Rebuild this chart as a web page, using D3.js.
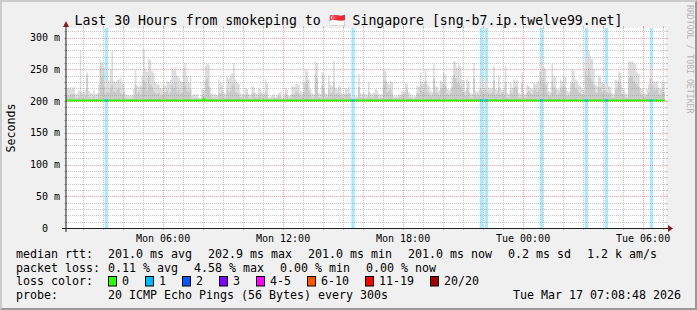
<!DOCTYPE html>
<html>
<head>
<meta charset="utf-8">
<script src="https://cdn.jsdelivr.net/npm/d3@7"></script>
<style>
  body { margin: 0; background: #fff; }
  svg text { font-family: "DejaVu Sans Mono", monospace; }
</style>
</head>
<body>
<script>
'use strict';

// ---- data (5 minute steps from Mon 01:10) ----
const titleText = 'Last 30 Hours from smokeping to \u{1F1F8}\u{1F1EC} Singapore [sng-b7.ip.twelve99.net]';

// highest ping of each step (ms) -> light smoke
const smokeMax = [
  221,220,222,219,222,211,212,216,279,215,214,219,245,216,213,212,217,211,212,226,
  263,260,253,234,234,232,250,279,232,230,233,234,236,229,227,211,210,209,208,210,
  219,250,224,222,225,240,281,250,246,266,264,247,244,229,226,226,221,219,226,224,
  232,230,233,253,250,253,240,237,232,230,253,260,240,229,240,208,211,210,211,205,
  205,219,217,255,259,257,221,212,210,212,209,234,228,226,213,211,238,236,240,244,
  260,234,229,227,213,211,211,221,219,211,209,224,222,213,212,221,219,213,211,234,
  228,205,207,208,211,206,209,213,214,205,207,221,218,208,209,224,222,226,228,225,
  216,214,230,250,247,234,219,213,211,263,260,213,211,245,242,213,211,240,226,224,
  263,221,219,224,222,213,211,221,219,222,213,205,205,208,207,242,213,211,213,211,
  210,230,213,211,213,219,217,211,210,211,250,247,229,226,232,230,208,207,208,211,
  210,216,214,229,227,213,211,208,207,208,224,222,245,229,227,250,226,224,216,214,
  258,224,222,216,232,230,245,242,219,217,219,237,263,261,253,258,255,234,232,216,
  234,231,213,211,260,216,214,216,240,232,221,236,229,221,219,221,255,219,217,240,
  219,217,219,255,213,211,229,221,234,232,234,213,211,245,213,211,226,224,221,219,
  229,227,229,232,270,258,253,250,230,216,214,258,240,238,219,217,234,232,240,238,
  216,214,229,250,248,234,232,226,224,219,217,276,266,279,270,266,250,226,224,240,
  238,229,227,229,226,224,222,213,211,234,232,247,244,221,219,213,211,263,261,263,
  260,258,245,242,221,219,213,211,219,226,264,250,232,230,232,221,219,232,230
];

// second highest ping of each step (ms) -> darker smoke
const smokeSecond = [
  209,207,211,208,212,204,205,207,214,206,205,208,240,206,204,205,207,203,204,212,
  255,238,222,212,215,214,221,226,216,214,218,221,213,210,214,204,204,203,203,204,
  208,226,212,214,210,222,232,228,216,240,226,222,215,212,211,213,208,210,212,214,
  216,211,214,226,220,228,214,217,212,214,230,224,216,214,218,203,205,204,205,203,
  203,210,208,232,236,224,208,205,204,206,204,213,212,215,206,205,218,214,216,224,
  228,214,213,210,205,206,204,210,212,205,204,212,213,206,205,210,212,205,206,214,
  210,203,204,205,206,204,205,207,208,203,204,212,209,204,205,211,210,213,216,212,
  208,207,214,226,232,216,210,205,206,242,236,206,205,224,220,205,206,218,212,214,
  230,211,212,213,210,206,205,211,210,212,206,203,204,204,205,222,206,205,206,204,
  205,214,206,205,207,210,209,204,205,204,226,232,214,216,218,212,204,205,204,205,
  206,210,208,215,218,206,205,204,203,205,213,212,226,216,214,232,214,212,208,209,
  236,214,212,209,218,221,226,224,212,210,213,222,241,236,228,230,224,218,214,208,
  220,214,206,205,236,209,210,208,220,216,212,218,214,212,211,213,232,210,212,222,
  211,213,210,230,206,205,216,212,220,222,218,205,206,228,206,205,214,216,212,211,
  216,218,214,218,246,236,228,226,214,209,208,232,222,218,210,212,220,218,224,221,
  208,209,216,230,228,220,218,214,212,210,209,248,240,252,236,232,226,214,212,222,
  220,214,216,216,214,212,213,205,206,218,220,230,226,211,210,205,206,236,240,238,
  232,228,226,222,212,210,206,207,210,214,236,226,218,216,220,211,210,218,214
];

// median rtt of each step (ms)
const medianRtt = [
  201,201,201,201,201,201,201,201,201,201,201,201,201,201,201,201,201,201,201,201,
  201,201,201,201,201,201,201,201,201,201,201,201,201,201,201,201,201,201,201,201,
  201,201,201,201,201,201,201,201,201,201,201,201,201,201,201,201,201,201,201,201,
  201,201,201,201,201,201,201,201,201,201,201,201,201,201,201,201,201,201,201,201,
  201,201,202.9,201,201,201,201,201,201,201,201,201,201,201,201,201,201,201,201,201,
  201,201,201,201,201,201,201,201,201,201,201,201,201,201,201,201,201,201,201,201,
  201,201,201,201,201,201,201,201,201,201,201,201,201,201,201,201,201,201,201,201,
  201,201,201,201,201,201,201,201,201,201,201,201,201,201,201,201,201,201,201,201,
  201,201,201,201,201,201,201,201,201,201,201,201,201,201,201,201,201,201,201,201,
  201,201,201,201,201,201,201,201,201,201,201,201,201,201,201,201,201,201,201,201,
  201,201,201,201,201,201,201,201,201,201,201,201,201,201,201,201,201,201,201,201,
  201,201,201,201,201,201,201,201,201,201,201,201,201,201,201,201,201,201,201,201,
  201,201,201,201,201,201,201,201,201,201,201,201,201,201,201,201,201,201,201,201,
  201,201,201,201,201,201,201,201,201,201,201,201,201,201,201,201,201,201,201,201,
  201,201,201,201,201,201,201,201,201,201,201,201,201,201,201,201,201,201,201,201,
  201,201,201,201,201,201,201,201,201,201,201,201,201,201,201,201,201,201,201,201,
  201,201,201,201,201,201,201,201,201,201,201,201,201,201,201,201,201,201,201,201,
  201,201,201,201,201,201,201,201,201,201,201,201,201,201,201,201,201,201,201
];

// steps with 1 lost ping out of 20
const lossSteps = [23,24,171,172,248,249,251,252,284,285,311,312,323,324,350,351];

const yTicks = [0, 50, 100, 150, 200, 250, 300];
const yTickLabels = ['0', '50 m', '100 m', '150 m', '200 m', '250 m', '300 m'];

const rttStats = ['201.0 ms avg', '202.9 ms max', '201.0 ms min', '201.0 ms now', '0.2 ms sd', '1.2 k am/s'];
const lossStats = ['0.11 % avg', '4.58 % max', '0.00 % min', '0.00 % now'];
const lossLevels = ['0', '1', '2', '3', '4-5', '6-10', '11-19', '20/20'];
const lossColors = ['#26ff00', '#00b8ff', '#0059ff', '#7e00ff', '#ff00ff', '#ff5500', '#ff0000', '#a00000'];
const rowLabels = ['median rtt:', 'packet loss:', 'loss color:', 'probe:'];
const probeText = '20 ICMP Echo Pings (56 Bytes) every 300s';
const stampText = 'Tue Mar 17 07:08:48 2026';

const tStart = new Date(2026, 2, 16, 1, 8, 48);
const tEnd = new Date(2026, 2, 17, 7, 8, 48);
const firstStep = new Date(2026, 2, 16, 1, 10, 0);
const stepMs = 300000;

// ---- drawing ----
const W = 697, H = 310;
const x0 = 66, x1 = 666, yBot = 228, yTop = 28;

const svg = d3.select('body').append('svg')
    .attr('width', W).attr('height', H);

svg.append('rect').attr('width', W).attr('height', H).attr('fill', '#f0f0f0');
svg.append('path').attr('d', `M0,0H${W}L${W-2},2H2V${H-2}L0,${H}Z`).attr('fill', '#cbcbcb');
svg.append('path').attr('d', `M${W},${H}H0L2,${H-2}H${W-2}V2L${W},0Z`).attr('fill', '#999999');

const x = d3.scaleTime().domain([tStart, tEnd]).range([x0, x1]);
const y = d3.scaleLinear().domain([0, 315]).range([yBot, yTop]);

const stepTime = i => new Date(+firstStep + i * stepMs);

const steps = smokeMax.map((m, i) => ({
    t: stepTime(i), max: m, second: Math.min(smokeSecond[i], m), med: medianRtt[i]
}));
// closing point so the last step gets its width
const last = steps[steps.length - 1];
const stepsClosed = steps.concat([{ t: stepTime(steps.length), max: last.max, second: last.second, med: last.med }]);

svg.append('rect').attr('x', x0).attr('y', yTop).attr('width', x1 - x0).attr('height', yBot - yTop).attr('fill', '#fff');

const plot = svg.append('g');
svg.append('clipPath').attr('id', 'clip').append('rect')
    .attr('x', x0).attr('y', yTop).attr('width', x1 - x0).attr('height', yBot - yTop);
plot.attr('clip-path', 'url(#clip)');

// loss background
plot.selectAll('.lossbg')
    .data(lossSteps)
    .enter()
    .append('rect')
    .attr('x', d => x(stepTime(d)))
    .attr('width', d => x(stepTime(d + 1)) - x(stepTime(d)))
    .attr('y', yTop)
    .attr('height', yBot - yTop)
    .attr('fill', lossColors[1])
    .attr('fill-opacity', 0.33);

// smoke
const smokeBase = 200;
const smokeArea = key => d3.area()
    .curve(d3.curveStepAfter)
    .x(d => x(d.t))
    .y0(y(smokeBase))
    .y1(d => y(d[key]));

plot.append('path').datum(stepsClosed).attr('d', smokeArea('max')).attr('fill', '#dddddd');
plot.append('path').datum(stepsClosed).attr('d', smokeArea('second')).attr('fill', '#cacaca');

// median line
const medLine = d3.line().curve(d3.curveStepAfter).x(d => x(d.t)).y(d => y(d.med));
plot.append('path').datum(stepsClosed).attr('d', medLine)
    .attr('fill', 'none').attr('stroke', lossColors[0]).attr('stroke-width', 2);

plot.selectAll('.lossmed')
    .data(lossSteps)
    .enter()
    .append('line')
    .attr('x1', d => x(stepTime(d)))
    .attr('x2', d => x(stepTime(d + 1)))
    .attr('y1', d => y(medianRtt[d]))
    .attr('y2', d => y(medianRtt[d]))
    .attr('stroke', lossColors[1])
    .attr('stroke-width', 2);

// grid
const minorCol = 'rgba(143,143,143,0.5)';
const majorCol = 'rgba(224,80,80,0.5)';
const grid = svg.append('g');

const hLines = d3.range(10, 315, 10);
hLines.forEach(v => {
    const yy = Math.round(y(v)) + 0.5;
    const col = v % 50 === 0 ? majorCol : minorCol;
    grid.append('line').attr('x1', x0).attr('x2', x1).attr('y1', yy).attr('y2', yy)
        .attr('stroke', col).attr('stroke-dasharray', '1,1');
    grid.append('line').attr('x1', x0 - 2).attr('x2', x0).attr('y1', yy).attr('y2', yy).attr('stroke', col);
    grid.append('line').attr('x1', x1).attr('x2', x1 + 2).attr('y1', yy).attr('y2', yy).attr('stroke', col);
});

const hours = d3.timeHour.range(tStart, tEnd);
hours.forEach(h => {
    const xx = Math.round(x(h)) + 0.5;
    const col = h.getHours() % 6 === 0 ? majorCol : minorCol;
    grid.append('line').attr('x1', xx).attr('x2', xx).attr('y1', yTop).attr('y2', yBot)
        .attr('stroke', col).attr('stroke-dasharray', '1,1');
    grid.append('line').attr('x1', xx).attr('x2', xx).attr('y1', yTop - 2).attr('y2', yTop).attr('stroke', col);
    grid.append('line').attr('x1', xx).attr('x2', xx).attr('y1', yBot).attr('y2', yBot + 2).attr('stroke', col);
});

// axes and arrows
svg.append('line').attr('x1', x0 - 4).attr('x2', x1 + 4).attr('y1', yBot + 0.5).attr('y2', yBot + 0.5)
    .attr('stroke', '#1f1f1f');
svg.append('line').attr('x1', x0).attr('x2', x0).attr('y1', yBot + 4).attr('y2', yTop - 4)
    .attr('stroke', '#1f1f1f');
svg.append('path').attr('d', `M${x1 + 2},${yBot - 3}L${x1 + 2},${yBot + 4}L${x1 + 7},${yBot + 0.5}Z`).attr('fill', '#7f1f1f');
svg.append('path').attr('d', `M${x0 - 3},${yTop - 1}L${x0 + 3},${yTop - 1}L${x0},${yTop - 7}Z`).attr('fill', '#7f1f1f');

// y labels
svg.append('g').selectAll('text')
    .data(yTicks)
    .enter()
    .append('text')
    .attr('x', (d, i) => yTickLabels[i].indexOf('m') < 0 ? 48 : 60)
    .attr('y', d => y(d) + 3.6)
    .attr('text-anchor', 'end')
    .attr('font-size', 10)
    .text((d, i) => yTickLabels[i]);

// x labels
const fmt = d3.timeFormat('%a %H:%M');
svg.append('g').selectAll('text')
    .data(hours.filter(h => h.getHours() % 6 === 0))
    .enter()
    .append('text')
    .attr('x', d => x(d))
    .attr('y', 242)
    .attr('text-anchor', 'middle')
    .attr('font-size', 10)
    .text(d => fmt(d));

// title and side texts
svg.append('text').attr('x', W / 2).attr('y', 24.5).attr('text-anchor', 'middle')
    .attr('font-size', 13.2).text(titleText);

svg.append('text').attr('transform', 'translate(15,128) rotate(-90)').attr('text-anchor', 'middle')
    .attr('font-size', 11.6).text('Seconds');

svg.append('text').attr('transform', 'translate(687,5) rotate(90)')
    .attr('font-size', 8.2).attr('fill', '#b4b4b4').text('RRDTOOL / TOBI OETIKER');

// legend
const legFont = 11.63, col2 = 108, gap = 16;
const baselines = [257.5, 271.5, 285, 299];
const leg = svg.append('g').attr('font-size', legFont);

rowLabels.forEach((t, i) => leg.append('text').attr('x', 16).attr('y', baselines[i]).text(t));

function placeRow(items, row) {
    let xx = col2;
    items.forEach(t => {
        const el = leg.append('text').attr('x', xx).attr('y', baselines[row]).text(t);
        xx += el.node().getComputedTextLength() + gap;
    });
}
placeRow(rttStats, 0);
placeRow(lossStats, 1);

let lx = col2;
lossLevels.forEach((t, i) => {
    leg.append('rect').attr('x', lx + 0.5).attr('y', baselines[2] - 8.5)
        .attr('width', 8).attr('height', 9.5)
        .attr('fill', lossColors[i]).attr('stroke', '#000').attr('stroke-width', 1);
    const el = leg.append('text').attr('x', lx + 14).attr('y', baselines[2]).text(t);
    lx += 14 + el.node().getComputedTextLength() + gap;
});

leg.append('text').attr('x', col2).attr('y', baselines[3]).text(probeText);
leg.append('text').attr('x', W - 16).attr('y', baselines[3]).attr('text-anchor', 'end').text(stampText);
</script>
</body>
</html>
